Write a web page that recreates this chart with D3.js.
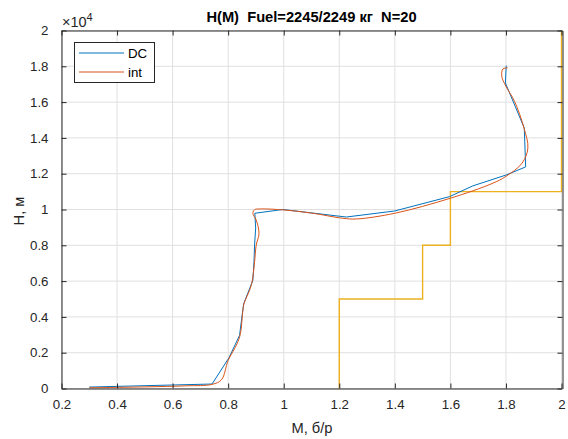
<!DOCTYPE html>
<html><head><meta charset="utf-8">
<script src="https://cdn.jsdelivr.net/npm/d3@7"></script>
<style>
html,body{margin:0;padding:0;background:#fff;}
svg{display:block;font-family:"Liberation Sans",Arial,Helvetica,sans-serif;}
text{white-space:pre;}
</style></head>
<body>
<svg id="chart" width="568" height="439"></svg>
<script>
// ---- data ----
const titleText = "H(M)  Fuel=2245/2249 кг  N=20";
const xLabel = "M, б/р";
const yLabel = "H, м";
const xTicks = [0.2, 0.4, 0.6, 0.8, 1, 1.2, 1.4, 1.6, 1.8, 2];
const yTicks = [0, 2000, 4000, 6000, 8000, 10000, 12000, 14000, 16000, 18000, 20000];
const yTickLabels = ["0", "0.2", "0.4", "0.6", "0.8", "1", "1.2", "1.4", "1.6", "1.8", "2"];
const seriesNames = ["DC", "int"];

// DC (blue) series
const dcM = [0.30, 0.742, 0.803, 0.841, 0.851, 0.856, 0.889, 0.893, 0.895, 0.899, 0.896, 0.997, 1.225, 1.399, 1.597, 1.681, 1.801, 1.871, 1.866, 1.798, 1.801];
const dcH = [80, 250, 1720, 2970, 4180, 4740, 6050, 7075, 8010, 8960, 9790, 10000, 9580, 9915, 10720, 11320, 11930, 12380, 14550, 17070, 18040];

// int (red) series
const intM = [0.30, 0.50, 0.65, 0.742, 0.776, 0.80, 0.832, 0.844, 0.853, 0.857, 0.877, 0.886, 0.895, 0.901, 0.911, 0.901, 0.889, 0.895, 0.913, 0.997, 1.10, 1.213, 1.261, 1.40, 1.60, 1.75, 1.80, 1.858, 1.879, 1.865, 1.831, 1.80, 1.785, 1.789, 1.806];
const intH = [40, 90, 150, 230, 490, 1570, 2500, 3060, 4370, 4740, 5490, 5950, 7075, 8010, 8670, 9410, 9790, 9990, 10030, 9980, 9800, 9510, 9470, 9790, 10630, 11450, 11850, 12590, 13430, 14550, 16040, 16880, 17440, 17850, 17910];

// limits (orange) series
const limM = [1.2, 1.2, 1.5, 1.5, 1.6, 1.6, 2.0, 2.0];
const limH = [0, 5000, 5000, 8000, 8000, 11000, 11000, 20000];

// ---- layout ----
const svg = d3.select("#chart");
const L = 61.5, R = 561.5, T = 30.5, B = 388.5;
const x = d3.scaleLinear().domain([0.2, 2]).range([L, R]);
const y = d3.scaleLinear().domain([0, 20000]).range([B, T]);
const axisColor = "#262626";
const gridColor = "#e0e0e0";
const tickFont = "13.3px";

// grid
const grid = svg.append("g");
xTicks.forEach(v => grid.append("line").attr("x1", x(v)).attr("x2", x(v)).attr("y1", T).attr("y2", B)
  .attr("stroke", gridColor).attr("stroke-width", 1));
yTicks.forEach(v => grid.append("line").attr("x1", L).attr("x2", R).attr("y1", y(v)).attr("y2", y(v))
  .attr("stroke", gridColor).attr("stroke-width", 1));

// data lines
svg.append("defs").append("clipPath").attr("id", "clip").append("rect")
  .attr("x", L).attr("y", T - 1).attr("width", R - L + 2).attr("height", B - T + 2);
const plot = svg.append("g").attr("clip-path", "url(#clip)");

const lineLin = d3.line().x(d => x(d[0])).y(d => y(d[1]));
const lineSmooth = d3.line().x(d => x(d[0])).y(d => y(d[1])).curve(d3.curveCatmullRom.alpha(0.5));

plot.append("path").datum(limM.map((m, i) => [m, limH[i]]))
  .attr("d", lineLin).attr("fill", "none").attr("stroke", "#EDB120").attr("stroke-width", 1.4);
plot.append("path").datum(dcM.map((m, i) => [m, dcH[i]]))
  .attr("d", lineLin).attr("fill", "none").attr("stroke", "#0072BD").attr("stroke-width", 1);
plot.append("path").datum(intM.map((m, i) => [m, intH[i]]))
  .attr("d", lineSmooth).attr("fill", "none").attr("stroke", "#D95319").attr("stroke-width", 1);

// axes (box with inward ticks on all sides)
const xAxisB = d3.axisBottom(x).tickValues(xTicks).tickFormat(d3.format("")).tickSizeInner(-5).tickSizeOuter(0).tickPadding(11);
const xAxisT = d3.axisTop(x).tickValues(xTicks).tickFormat("").tickSizeInner(-5).tickSizeOuter(0);
const yAxisL = d3.axisLeft(y).tickValues(yTicks).tickFormat((d, i) => yTickLabels[i]).tickSizeInner(-5).tickSizeOuter(0).tickPadding(13);
const yAxisR = d3.axisRight(y).tickValues(yTicks).tickFormat("").tickSizeInner(-5).tickSizeOuter(0);

function style(g) {
  g.select(".domain").attr("stroke", axisColor).attr("stroke-width", 1);
  g.selectAll(".tick line").attr("stroke", axisColor).attr("stroke-width", 1);
  g.selectAll(".tick text").attr("fill", axisColor).style("font-size", tickFont).style("font-family", "Liberation Sans, Arial, sans-serif");
}
svg.append("g").attr("transform", `translate(0,${B})`).call(xAxisB).call(style);
svg.append("g").attr("transform", `translate(0,${T})`).call(xAxisT).call(style);
svg.append("g").attr("transform", `translate(${L},0)`).call(yAxisL).call(style);
svg.append("g").attr("transform", `translate(${R + 1},0)`).call(yAxisR).call(style);

// exponent label
const ex = svg.append("text").attr("x", 62).attr("y", 26.5).attr("fill", axisColor)
  .style("font-size", "14.5px");
ex.append("tspan").text("×10");
ex.append("tspan").attr("dy", -6).style("font-size", "11px").text("4");

// title
svg.append("text").attr("x", 311.5).attr("y", 21.5).attr("text-anchor", "middle")
  .attr("fill", "#000").style("font-size", "14.7px").style("font-weight", "bold").text(titleText);

// axis labels
svg.append("text").attr("x", 312).attr("y", 433).attr("text-anchor", "middle")
  .attr("fill", axisColor).style("font-size", "14.7px").text(xLabel);
svg.append("text").attr("transform", "translate(24,211) rotate(-90)").attr("text-anchor", "middle")
  .attr("fill", axisColor).style("font-size", "14.7px").text(yLabel);

// legend
const lg = svg.append("g");
lg.append("rect").attr("x", 74.5).attr("y", 42.5).attr("width", 80).attr("height", 40)
  .attr("fill", "#fff").attr("stroke", axisColor).attr("stroke-width", 1);
const legColors = ["#0072BD", "#D95319"];
seriesNames.forEach((n, i) => {
  const yy = 53 + i * 19;
  lg.append("line").attr("x1", 79).attr("x2", 124).attr("y1", yy).attr("y2", yy)
    .attr("stroke", legColors[i]).attr("stroke-width", 1);
  lg.append("text").attr("x", 128).attr("y", yy + 4.5).attr("fill", "#000")
    .style("font-size", tickFont).text(n);
});
</script>
</body></html>
